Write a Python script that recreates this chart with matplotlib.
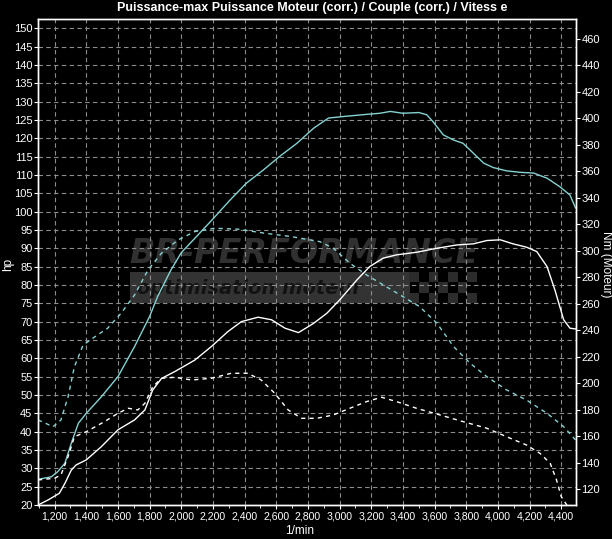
import numpy as np
import matplotlib
matplotlib.use("Agg")
from matplotlib import pyplot as plt
from matplotlib.ticker import MultipleLocator, FuncFormatter
from matplotlib.patches import Rectangle

plt.rcParams['font.family'] = ['Liberation Sans Narrow', 'Liberation Sans', 'DejaVu Sans']

# power after tuning (hp, cyan solid)
rpm_pw1 = [1095, 1180, 1220, 1265, 1305, 1350, 1400, 1495, 1600, 1705, 1800, 1850, 1935, 2000,
           2105, 2200, 2305, 2410, 2520, 2620, 2730, 2835, 2930, 3045, 3170, 3255, 3320, 3400,
           3500, 3550, 3590, 3655, 3720, 3780, 3845, 3910, 3970, 4055, 4140, 4225, 4310, 4390,
           4455, 4490]
hp_pw1 = [27.0, 27.7, 29.1, 31.4, 36.8, 42.3, 45.0, 49.5, 55.0, 63.2, 71.4, 76.8, 84.1, 88.8,
          93.6, 98.0, 103.0, 107.7, 111.4, 115.0, 118.6, 122.7, 125.5, 126.0, 126.5, 126.8, 127.3, 126.8,
          127.0, 126.4, 124.5, 120.9, 119.5, 118.6, 115.9, 113.2, 112.0, 111.1, 110.7, 110.5, 109.1, 106.8,
          104.5, 101.0]

# torque after tuning (Nm, cyan dashed)
rpm_tq1 = [1095, 1190, 1240, 1285, 1325, 1380, 1455, 1535, 1620, 1705, 1790, 1875, 1980, 2085,
           2210, 2360, 2525, 2695, 2875, 2960, 3065, 3170, 3295, 3400, 3505, 3615, 3720, 3825,
           3930, 4055, 4180, 4310, 4415, 4490]
nm_tq1 = [172.5, 167.4, 172.5, 190.0, 212.7, 229.0, 235.3, 241.7, 253.0, 266.8, 285.7, 298.3, 308.3, 314.6,
          317.1, 316.4, 313.4, 310.8, 307.0, 302.0, 290.7, 281.9, 273.0, 265.5, 258.0, 245.4, 227.8, 215.2,
          205.1, 195.1, 187.5, 177.5, 167.4, 157.4]

# original power (hp, white solid)
rpm_pw2 = [1095, 1160, 1230, 1265, 1305, 1335, 1400, 1495, 1600, 1705, 1770, 1820, 1875, 1960,
           2085, 2190, 2295, 2380, 2485, 2570, 2655, 2740, 2835, 2920, 3000, 3110, 3190, 3275,
           3360, 3485, 3615, 3740, 3845, 3930, 4015, 4095, 4180, 4245, 4310, 4360, 4415, 4455, 4490]
hp_pw2 = [20.0, 21.4, 23.2, 25.9, 29.5, 30.9, 32.3, 35.9, 40.5, 43.2, 45.9, 51.4, 54.5, 56.4,
          59.5, 63.2, 67.3, 70.0, 71.2, 70.5, 68.2, 67.0, 69.5, 72.3, 75.9, 81.4, 85.0, 87.3,
          88.2, 88.9, 90.0, 90.9, 91.2, 92.1, 92.3, 91.2, 90.3, 89.1, 85.0, 78.6, 70.5, 68.2, 68.0]

# original torque (Nm, white dashed)
rpm_tq2 = [1095, 1200, 1240, 1285, 1325, 1400, 1515, 1600, 1665, 1725, 1770, 1820, 1875, 1960,
           2065, 2190, 2315, 2420, 2505, 2590, 2675, 2760, 2855, 2960, 3065, 3170, 3265, 3360,
           3485, 3635, 3780, 3930, 4055, 4180, 4265, 4330, 4370, 4400, 4435]
nm_tq2 = [127.2, 128.5, 131.0, 144.8, 159.8, 163.6, 171.2, 177.5, 181.3, 180.0, 185.0, 197.6, 203.9, 204.7,
          202.6, 203.9, 207.7, 207.7, 202.6, 192.6, 180.0, 173.7, 173.7, 176.2, 181.3, 186.3, 189.6, 186.3,
          181.3, 176.2, 171.2, 166.2, 159.8, 153.6, 147.3, 139.8, 127.2, 114.6, 108.3]

cyan = '#86d2d2'
grid_col = '#8c8c8c'

fig = plt.figure(figsize=(6.12, 5.39), dpi=100, facecolor='black')
ax = fig.add_axes([38/612, 34/539, 538/612, 486/539])
ax.set_facecolor('black')
ax2 = ax.twinx()

ax.set_xlim(1095, 4493)
ax.set_ylim(20, 152.5)
ax2.set_ylim(108.3, 475)

ax.xaxis.set_minor_locator(MultipleLocator(100))
ax.xaxis.set_major_formatter(FuncFormatter(lambda v, p: f"{v:,.0f}"))
ax.set_xticks(np.arange(1200, 4401, 200))
ax.set_yticks(np.arange(20, 151, 5))
ax2.set_yticks(np.arange(120, 461, 20))

ax.set_axisbelow(True)
ax.grid(True, which='major', color=grid_col, linestyle=(0, (4, 3)), linewidth=0.8)

for a in (ax, ax2):
    for s in a.spines.values():
        s.set_color('white')
        s.set_linewidth(1.0)
    a.tick_params(colors='white', labelsize=8, length=3, width=0.8)
ax.tick_params(axis='x', labelsize=7.6, pad=2)
ax.tick_params(axis='x', which='minor', colors='white', length=2)
ax.tick_params(axis='y', pad=1)
ax2.tick_params(axis='y', pad=1)

# watermark
ax.text(0.494, 0.518, 'BR-PERFORMANCE', transform=ax.transAxes, ha='center', va='center',
        fontsize=24, fontweight='bold', fontstyle='italic', color='#303030', zorder=0.1,
        family='DejaVu Sans')
ax.add_patch(Rectangle((0.171, 0.416), 0.52, 0.063, transform=ax.transAxes,
                       facecolor='#333333', edgecolor='none', zorder=0.1))
for i in range(7):
    for j in range(3):
        if (i + j) % 2 == 0:
            ax.add_patch(Rectangle((0.69 + i * 0.018, 0.416 + j * 0.021), 0.018, 0.021,
                                   transform=ax.transAxes, facecolor='#2c2c2c',
                                   edgecolor='none', zorder=0.1))
ax.text(0.184, 0.446, 'optimisation moteur', transform=ax.transAxes, ha='left', va='center',
        fontsize=14, fontweight='bold', fontstyle='italic', color='#121212', zorder=0.15,
        family='DejaVu Sans')

ax.plot(rpm_pw1, hp_pw1, color=cyan, linewidth=1.0, zorder=3)
ax.plot(rpm_pw2, hp_pw2, color='white', linewidth=1.0, zorder=3)
ax2.plot(rpm_tq1, nm_tq1, color=cyan, linewidth=1.0, linestyle=(0, (3, 3)))
ax2.plot(rpm_tq2, nm_tq2, color='white', linewidth=1.0, linestyle=(0, (3, 3)))

ax.set_ylabel('hp', color='white', fontsize=8.5, va='center')
ax.yaxis.set_label_coords(-0.055, 0.494)
ax2.set_ylabel('Nm (Moteur)', color='white', fontsize=8.5, rotation=-90, va='center')
ax2.yaxis.set_label_coords(1.056, 0.496)
ax.set_xlabel('1/min', color='white', fontsize=8.5, va='center')
ax.xaxis.set_label_coords(0.487, -0.053)

fig.text(0.51, 0.997, 'Puissance-max Puissance Moteur (corr.) / Couple (corr.) / Vitess e',
         ha='center', va='top', color='white', fontsize=9, fontweight='bold')

fig.savefig('out.png', dpi=100, facecolor='black')
